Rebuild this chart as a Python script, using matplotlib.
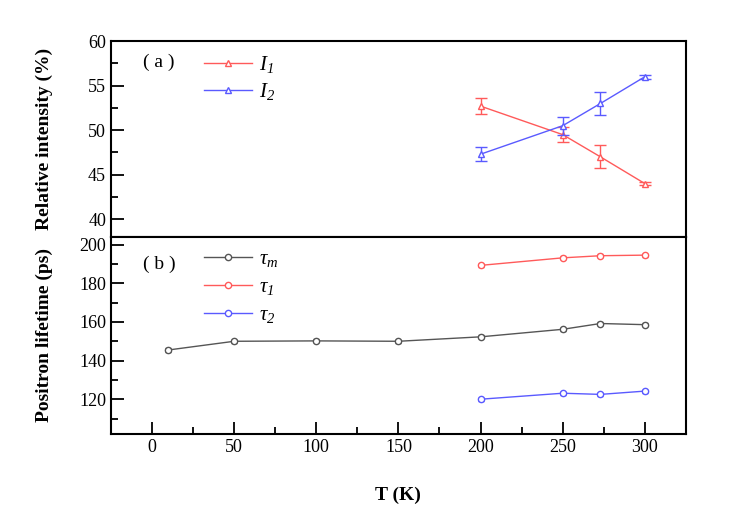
import matplotlib
matplotlib.use('Agg')
import matplotlib.pyplot as plt
from matplotlib.ticker import MultipleLocator

plt.rcParams['font.family'] = ['Liberation Serif', 'DejaVu Serif']
plt.rcParams['mathtext.fontset'] = 'custom'
plt.rcParams['mathtext.rm'] = 'Liberation Serif'
plt.rcParams['mathtext.it'] = 'Liberation Serif:italic'
# italic digits in subscripts
plt.rcParams['mathtext.sf'] = 'Liberation Serif:italic'

# intensity data
T_int = [200, 250, 273, 300]
I1 = [52.7, 49.5, 47.0, 44.0]
I1_err = [0.9, 0.8, 1.3, 0.2]
I2 = [47.3, 50.5, 53.0, 56.0]
I2_err = [0.8, 1.0, 1.3, 0.2]

# lifetime data
T_m = [10, 50, 100, 150, 200, 250, 273, 300]
tau_m = [145.5, 150.0, 150.2, 150.0, 152.3, 156.2, 159.2, 158.6]
T_tau = [200, 250, 273, 300]
tau1 = [189.3, 193.2, 194.3, 194.6]
tau2 = [120.0, 123.1, 122.5, 124.2]

red = '#ff5a5a'
blue = '#5a5aff'
grey = '#555555'

fig = plt.figure(figsize=(7.32, 5.08), dpi=100)
ax1 = fig.add_axes([0.1516, 0.5335, 0.7854, 0.3855])
ax2 = fig.add_axes([0.1516, 0.1457, 0.7854, 0.3878], sharex=ax1)

def curve(ax, x, y, err, c, m, lab, cap):
    ax.errorbar(x, y, yerr=err, fmt='none', ecolor=c, capsize=cap, elinewidth=1)
    ax.plot(x, y, color=c, marker=m, mfc='white', mec=c, ms=4.5, lw=1, label=lab)

curve(ax1, T_int, I1, I1_err, red, '^', r'$I_{\mathsf{1}}$', 4)
curve(ax1, T_int, I2, I2_err, blue, '^', r'$I_{\mathsf{2}}$', 4)
ax1.set_ylim(38, 60)
ax1.yaxis.set_major_locator(MultipleLocator(5))
ax1.yaxis.set_minor_locator(MultipleLocator(2.5))
ax1.set_ylabel('Relative intensity (%)', fontsize=14, fontweight='bold')
ax1.text(0.055, 0.87, '( a )', transform=ax1.transAxes, fontsize=14)
ax1.legend(loc='upper left', bbox_to_anchor=(0.13, 1.03), frameon=False, fontsize=15,
           handlelength=2.3, labelspacing=0.3, handletextpad=0.3)

sd = [0.8] * len(T_m)
curve(ax2, T_m, tau_m, sd, grey, 'o', r'$\tau_{m}$', 2)
curve(ax2, T_tau, tau1, sd[:4], red, 'o', r'$\tau_{\mathsf{1}}$', 2)
curve(ax2, T_tau, tau2, sd[:4], blue, 'o', r'$\tau_{\mathsf{2}}$', 2)
ax2.set_ylim(102, 204)
ax2.yaxis.set_major_locator(MultipleLocator(20))
ax2.yaxis.set_minor_locator(MultipleLocator(10))
ax2.set_ylabel('Positron lifetime (ps)', fontsize=14, fontweight='bold')
ax2.text(0.055, 0.84, '( b )', transform=ax2.transAxes, fontsize=14)
ax2.legend(loc='upper left', bbox_to_anchor=(0.13, 1.03), frameon=False, fontsize=15,
           handlelength=2.3, labelspacing=0.4, handletextpad=0.3)

ax2.set_xlim(-25, 325)
ax2.xaxis.set_major_locator(MultipleLocator(50))
ax2.xaxis.set_minor_locator(MultipleLocator(25))
ax2.set_xlabel('T (K)', fontsize=14, fontweight='bold', labelpad=22)

for ax in (ax1, ax2):
    for s in ax.spines.values():
        s.set_linewidth(1.5)
    ax.tick_params(which='major', direction='in', length=9, width=1.3, labelsize=13)
    ax.tick_params(which='minor', direction='in', length=5, width=1.3)
    ax.yaxis.set_label_coords(-0.1, 0.5)
ax1.tick_params(axis='x', which='both', bottom=False, labelbottom=False)

fig.savefig('out.png', dpi=100)
